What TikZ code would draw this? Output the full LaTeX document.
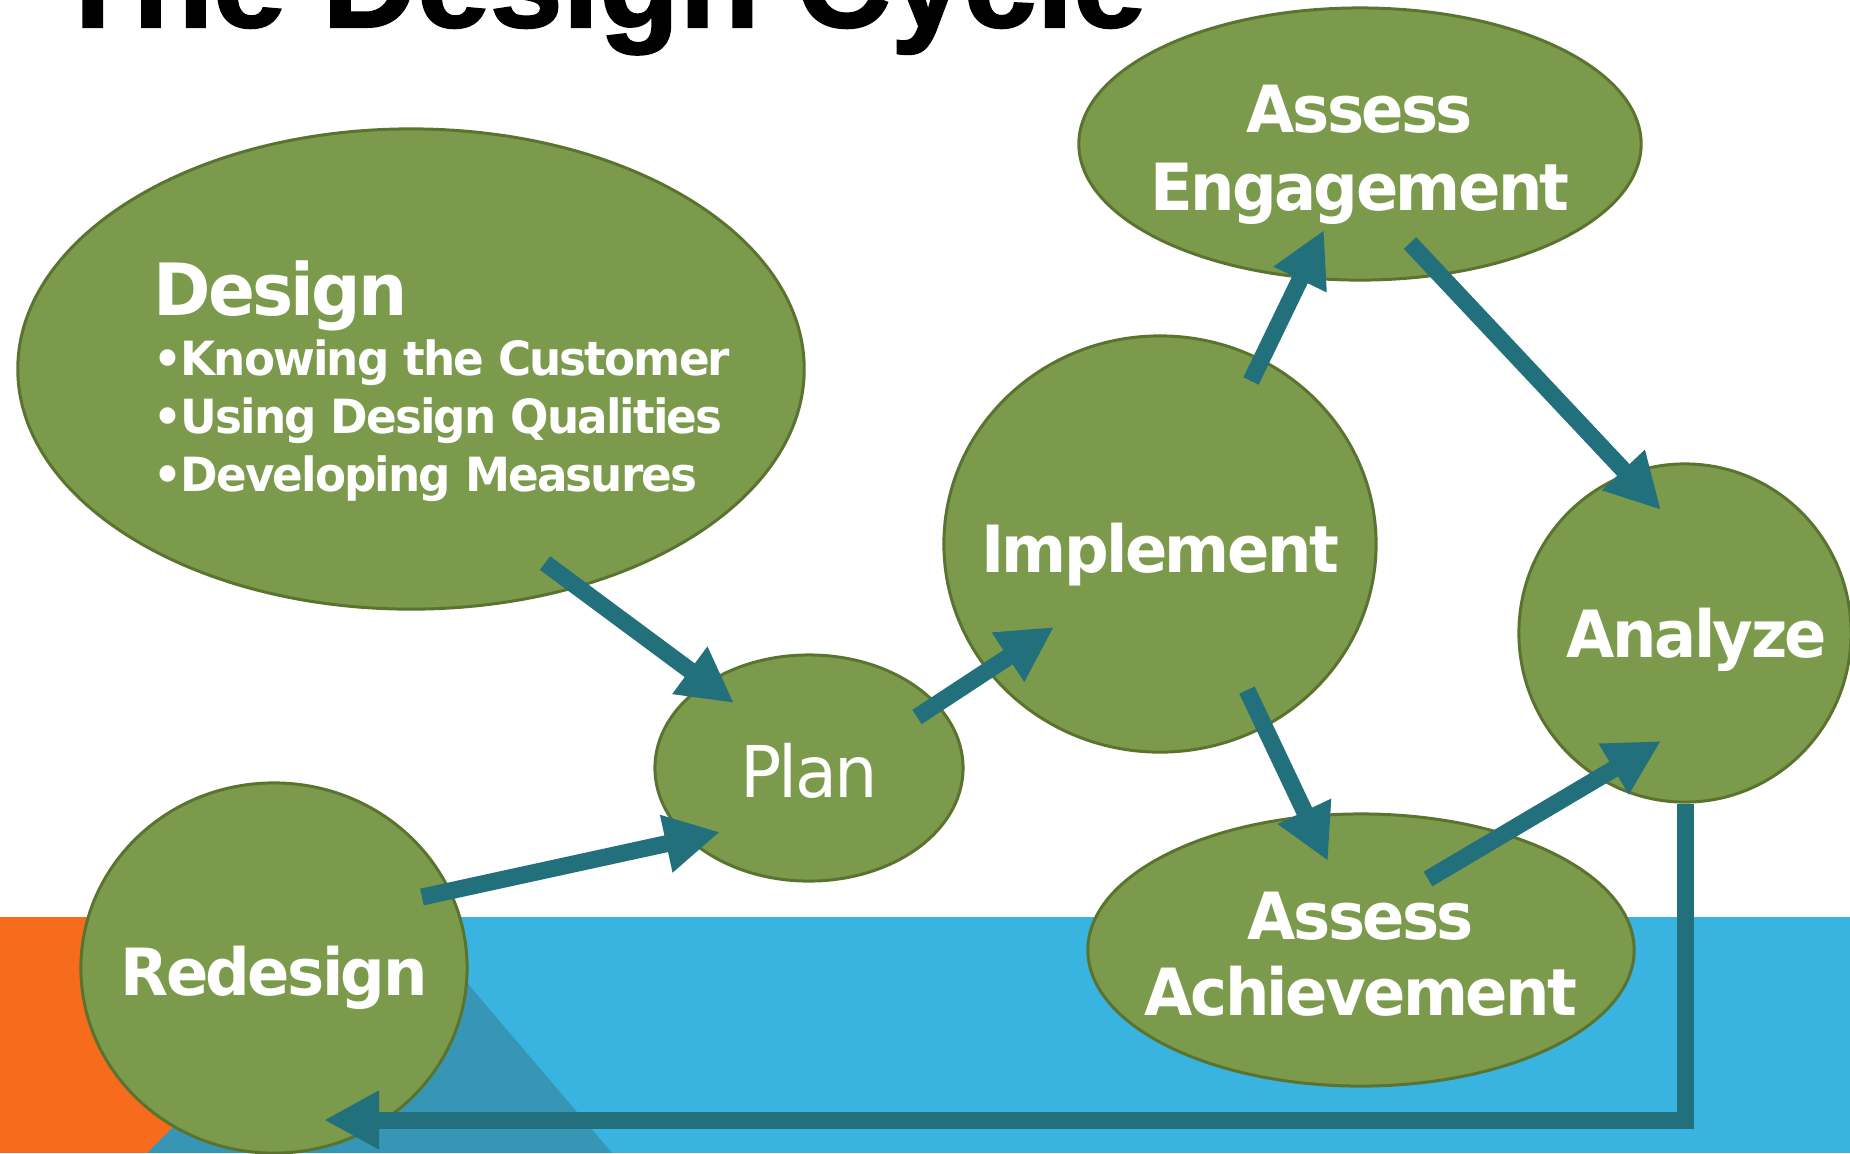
\documentclass[tikz,border=0pt]{standalone}
\usepackage{fontspec}
\usetikzlibrary{arrows.meta,calc,shapes.geometric}
\newfontfamily\lblfont{DejaVu Sans}[FakeStretch=0.96, LetterSpace=-4]
\newfontfamily\ttlfont{Liberation Sans}[FakeBold=1.5]
\definecolor{gfill}{HTML}{7B9A4B}
\definecolor{gline}{HTML}{5A7430}
\definecolor{tealarr}{HTML}{23707D}
\definecolor{orng}{HTML}{F76B1C}
\definecolor{blu}{HTML}{39B3E0}
\definecolor{dblu}{HTML}{3796B5}
\begin{document}
\begin{tikzpicture}[x=0.01cm,y=-0.01cm,
  blob/.style={ellipse, draw=gline, fill=gfill, line width=0.3mm, inner sep=0pt},
  lbl/.style={text=white, font=\lblfont\bfseries\fontsize{18.5pt}{22pt}\selectfont, inner sep=0pt, anchor=base},
  lblreg/.style={text=white, font=\lblfont\fontsize{20.3pt}{24pt}\selectfont, inner sep=0pt, anchor=base},
  bul/.style={text=white, font=\lblfont\bfseries\fontsize{13.4pt}{16pt}\selectfont, inner sep=0pt, anchor=base west},
  arr/.style={draw=tealarr, line width=1.7mm, -{Triangle[length=5.5mm,width=5.5mm]}}]
\useasboundingbox (0,0) rectangle (1850,1153);
\clip (0,0) rectangle (1850,1153);
% background band
\fill[orng] (0,917) rectangle (320,1153);
\fill[blu] (320,917) rectangle (1850,1153);
\fill[dblu] (398,902) -- (147,1153) -- (612,1153) -- cycle;
% title
\node[anchor=base west, inner sep=0pt, font=\ttlfont\bfseries\fontsize{37.3pt}{40pt}\selectfont] (title) at (52,27) {The Design Cycle};
% blobs
\node[blob, minimum width=7.86cm, minimum height=4.80cm] (design) at (411,369) {};
\node[blob, minimum width=3.08cm, minimum height=2.26cm] (plan) at (809,768) {};
\node[blob, minimum width=4.32cm, minimum height=4.16cm] (impl) at (1160,544) {};
\node[blob, minimum width=5.62cm, minimum height=2.72cm] (eng) at (1360,144) {};
\node[blob, minimum width=3.32cm, minimum height=3.38cm] (ana) at (1685,633) {};
\node[blob, minimum width=5.46cm, minimum height=2.72cm] (ach) at (1361,950) {};
\node[blob, minimum width=3.86cm, minimum height=3.70cm] (redes) at (274,968) {};
% labels
\node[bul, font=\lblfont\bfseries\fontsize{20.5pt}{24pt}\selectfont] (dt0) at ($(design)+(-258,-54)$) {Design};
\node[bul] (dt1) at ($(design)+(-258,6)$) {•Knowing the Customer};
\node[bul] (dt2) at ($(design)+(-258,64)$) {•Using Design Qualities};
\node[bul] (dt3) at ($(design)+(-258,122)$) {•Developing Measures};
\node[lblreg] (plant) at ($(plan)+(0,29)$) {Plan};
\node[lbl] (implt) at ($(impl)+(0,28)$) {Implement};
\node[lbl] (engt1) at ($(eng)+(0,-12)$) {Assess};
\node[lbl] (engt2) at ($(eng)+(0,66)$) {Engagement};
\node[lbl] (anat) at ($(ana)+(12,24)$) {Analyze};
\node[lbl] (acht1) at ($(ach)+(0,-11)$) {Assess};
\node[lbl] (acht2) at ($(ach)+(0,65)$) {Achievement};
\node[lbl] (redest) at ($(redes)+(0,27)$) {Redesign};
% arrows
\draw[arr] ($(design)+(134,194)$) -- ($(plan)+(-75,-65)$);
\draw[arr] ($(plan)+(108,-51)$) -- ($(impl)+(-106,83)$);
\draw[arr] ($(impl)+(91,-163)$) -- ($(eng)+(-36,86)$);
\draw[arr] ($(eng)+(50,99)$) -- ($(ana)+(-24,-123)$);
\draw[arr] ($(impl)+(87,146)$) -- ($(ach)+(-33,-89)$);
\draw[arr] ($(ach)+(67,-71)$) -- ($(ana)+(-24,108)$);
\draw[arr, line join=miter] (ana.south) |- ($(redes)+(50,152)$);
\draw[arr] ($(redes)+(148,-71)$) -- ($(plan)+(-89,64)$);
\end{tikzpicture}
\end{document}
